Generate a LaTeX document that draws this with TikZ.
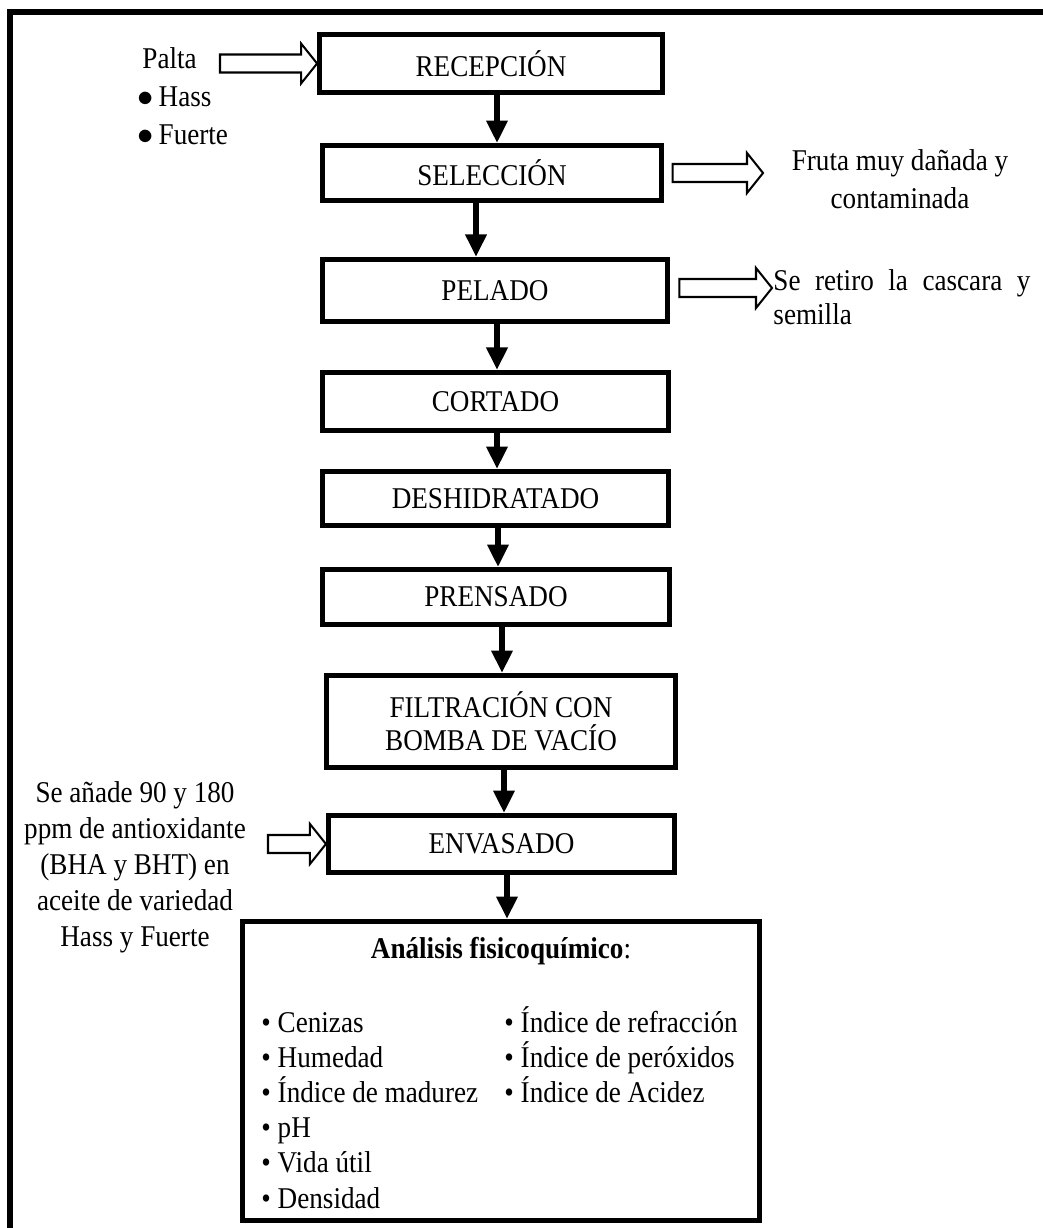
\documentclass[tikz,border=0pt]{standalone}
\usepackage{fontspec}
\setmainfont{Liberation Serif}[FakeStretch=0.9]
\usetikzlibrary{arrows.meta,calc,positioning}

% flecha hueca: desde la x de #1 hasta la punta #2
\newcommand\blockarrow[2]{%
  \path (#1 |- #2) coordinate (bas) (#2) coordinate (bat);
  \draw[hollow] ($(bas)+(0,-9)$) -- ($(bat)+(-16,-9)$) -- ($(bat)+(-16,-20)$) -- (bat)
    -- ($(bat)+(-16,20)$) -- ($(bat)+(-16,9)$) -- ($(bas)+(0,9)$) -- cycle;
}

\begin{document}
\begin{tikzpicture}[x=0.4444pt,y=-0.4444pt,font=\fontsize{13.4}{16}\selectfont,
  stepbox/.style={draw,line width=2.2pt,inner sep=0pt,align=center},
  flow/.style={line width=3.1pt,-{Triangle[width=9pt,length=10pt]}},
  hollow/.style={draw,fill=white,line width=0.9pt,line join=miter},
  note/.style={inner sep=0pt,align=center},
  item/.style={anchor=base west,inner sep=0pt}]
\clip (0,0) rectangle (1043,1228);
\draw[line width=2.6pt] (1100,12) -- (10,12) -- (10,1300);

% etapas
\node[stepbox,minimum width=152.4pt,minimum height=25.8pt] (rec) at (491,63.5) {RECEPCIÓN};
\node[stepbox,minimum width=150.7pt,minimum height=24.4pt] (sel) at (492,173) {SELECCIÓN};
\node[stepbox,minimum width=153.3pt,minimum height=27.6pt] (pel) at (495,290.5) {PELADO};
\node[stepbox,minimum width=153.8pt,minimum height=25.8pt] (cor) at (495.5,401.5) {CORTADO};
\node[stepbox,minimum width=153.8pt,minimum height=24pt] (des) at (495.5,498.5) {DESHIDRATADO};
\node[stepbox,minimum width=154.2pt,minimum height=24.4pt] (pre) at (496,597) {PRENSADO};
\node[stepbox,minimum width=155.1pt,minimum height=40.9pt,font=\fontsize{13.4}{14.7}\selectfont] (fil) at (501,721.5) {FILTRACIÓN CON\\BOMBA DE VACÍO};
\node[stepbox,minimum width=153.8pt,minimum height=25.3pt] (env) at (501.5,844) {ENVASADO};
\node[stepbox,minimum width=229.8pt,minimum height=132.9pt] (ana) at (501,1071) {};

\foreach \a/\b/\s in {rec/sel/6,sel/pel/-16,pel/cor/2,cor/des/1.5,des/pre/2.5,pre/fil/6,fil/env/3,env/ana/5.5} {
  \path (\a.south) ++(\s,0) coordinate (s\a);
  \draw[flow] (s\a) -- (s\a |- \b.north);
}

% entradas y salidas
\node[note,anchor=north west,align=left,font=\fontsize{13.4}{16.9}\selectfont] (palta) at (137,47.5) {\,Palta\\$\bullet$\,Hass\\$\bullet$\,Fuerte};
\node[note,anchor=north,font=\fontsize{13.4}{16.9}\selectfont] (fruta) at (900,149.5) {Fruta muy dañada y\\contaminada};
\node[note,anchor=north west,text width=114.2pt,align=justify,font=\fontsize{13.4}{15.2}\selectfont] (semilla) at (773,269) {Se retiro la cascara y semilla};
\node[note,anchor=north] (antiox) at (135,781.5) {Se añade 90 y 180\\ppm de antioxidante\\(BHA y BHT) en\\aceite de variedad\\Hass y Fuerte};

\coordinate (a1) at (220,63.5);
\blockarrow{a1}{rec.west}
\path (sel.east) ++(8.5,0) coordinate (a2);
\coordinate (t2) at (763,173);
\blockarrow{a2}{t2}
\path (pel.east) ++(9.5,0) coordinate (a3);
\coordinate (t3) at (772,288);
\blockarrow{a3}{t3}
\coordinate (a4) at (268,844);
\blockarrow{a4}{env.west}

% analisis
\node[anchor=base,inner sep=0pt] (anatit) at (501,958) {\textbf{Análisis fisicoquímico}:};
\foreach \t [count=\i] in {Cenizas,Humedad,Índice de madurez,pH,Vida útil,Densidad}
  \node[item] (izq\i) at (261,{1032+35.2*(\i-1)}) {\textbullet\ \t};
\foreach \t [count=\i] in {Índice de refracción,Índice de peróxidos,Índice de Acidez}
  \node[item] (der\i) at (504,{1032+35.2*(\i-1)}) {\textbullet\ \t};
\end{tikzpicture}
\end{document}
